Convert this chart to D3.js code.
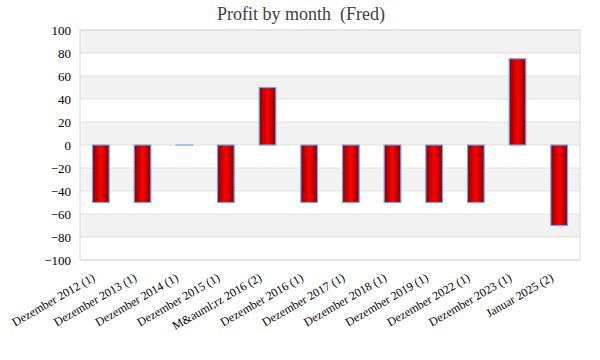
<!DOCTYPE html>
<html><head><meta charset="utf-8">
<script src="https://cdn.jsdelivr.net/npm/d3@7"></script>
<style>body{margin:0;background:#fff}svg{display:block}</style>
</head><body>
<svg id="c" width="600" height="360"></svg>
<script>
const categories = ["Dezember 2012 (1)","Dezember 2013 (1)","Dezember 2014 (1)","Dezember 2015 (1)","M&auml;rz 2016 (2)","Dezember 2016 (1)","Dezember 2017 (1)","Dezember 2018 (1)","Dezember 2019 (1)","Dezember 2022 (1)","Dezember 2023 (1)","Januar 2025 (2)"];
const values = [-50,-50,0,-50,50,-50,-50,-50,-50,-50,75,-70];
const yTicks = [-100,-80,-60,-40,-20,0,20,40,60,80,100];
const title = "Profit by month  (Fred)";

const font = "Georgia, 'Liberation Serif', serif";
const svg = d3.select("#c");
const m = {l:80, r:20, t:30, b:100};
const W = 600, H = 360;
const x = d3.scaleBand().domain(categories).range([m.l, W-m.r]).paddingInner(0.6).paddingOuter(0.3);
const y = d3.scaleLinear().domain([-100,100]).range([H-m.b, m.t]);

const defs = svg.append("defs");
const g = defs.append("linearGradient").attr("id","bar").attr("x1","0").attr("x2","1").attr("y1","0").attr("y2","0");
g.append("stop").attr("offset","0%").attr("stop-color","#8a0000");
g.append("stop").attr("offset","50%").attr("stop-color","#ff0000");
g.append("stop").attr("offset","100%").attr("stop-color","#8a0000");

// alternating bands (100-80 grey)
const bands = yTicks.slice(0,-1).map((t,i)=>({lo:t, hi:yTicks[i+1], grey:i%2===1}));
svg.append("g").selectAll("rect").data(bands).join("rect")
  .attr("x",m.l).attr("width",W-m.r-m.l)
  .attr("y",d=>y(d.hi)).attr("height",d=>y(d.lo)-y(d.hi))
  .attr("fill",d=>d.grey ? "#f2f2f2" : "#ffffff");

// grid
svg.append("g").selectAll("line").data(yTicks).join("line")
  .attr("x1",m.l).attr("x2",W-m.r).attr("y1",d=>y(d)).attr("y2",d=>y(d))
  .attr("stroke","#e0e0e0").attr("stroke-width",1);
svg.append("rect").attr("x",m.l).attr("y",m.t).attr("width",W-m.r-m.l).attr("height",H-m.b-m.t)
  .attr("fill","none").attr("stroke","#d9d9d9");

// y axis
const ya = svg.append("g").attr("transform",`translate(${m.l},0)`)
  .call(d3.axisLeft(y).tickValues(yTicks).tickSize(0).tickPadding(9));
ya.select(".domain").remove();
ya.selectAll("text").attr("font-family",font).attr("font-size",13).attr("fill","#000");

// bars
svg.append("g").selectAll("rect").data(values).join("rect")
  .attr("x",(d,i)=>x(categories[i])).attr("width",x.bandwidth())
  .attr("y",d=>y(Math.max(0,d))).attr("height",d=>Math.max(0.01,Math.abs(y(d)-y(0))))
  .attr("fill","url(#bar)").attr("stroke","#6aaaf0").attr("stroke-width",1.2);

// x axis
const xa = svg.append("g").attr("transform",`translate(0,${H-m.b})`)
  .call(d3.axisBottom(x).tickSize(0).tickPadding(0));
xa.select(".domain").remove();
xa.selectAll("text").attr("font-family",font).attr("font-size",12).attr("fill","#000")
  .attr("text-anchor","end").attr("dy",0)
  .attr("transform","translate(-5,20) rotate(-30)");

svg.append("text").attr("x",W/2+1).attr("y",20).attr("text-anchor","middle")
  .attr("xml:space","preserve").style("white-space","pre")
  .attr("font-family",font).attr("font-size",18).attr("fill","#404040").text(title);
</script>
</body></html>
